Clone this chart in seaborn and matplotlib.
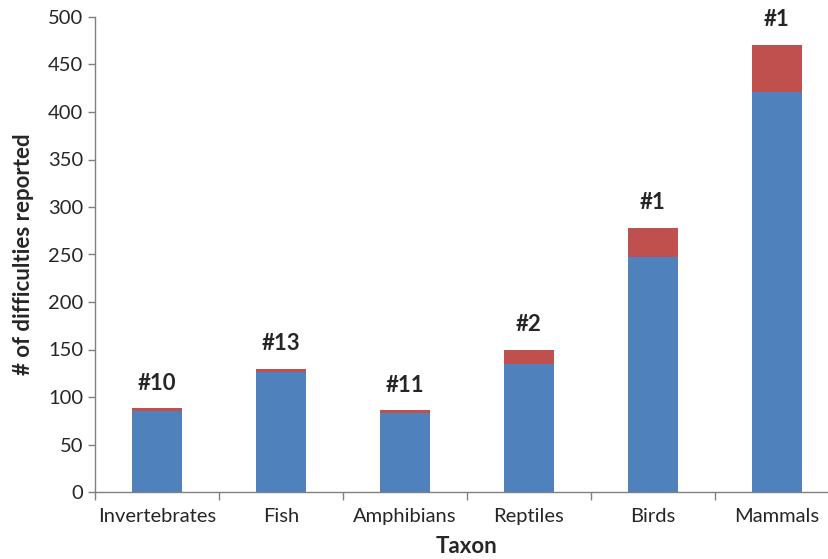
import seaborn as sns
import matplotlib.pyplot as plt
import pandas as pd
import numpy as np

taxa = ['Invertebrates', 'Fish', 'Amphibians', 'Reptiles', 'Birds', 'Mammals']
blue_vals = [85, 126, 83, 135, 247, 421]
red_vals = [3, 4, 3, 15, 31, 50]
ranks = ['#10', '#13', '#11', '#2', '#1', '#1']

df = pd.DataFrame({'taxon': taxa, 'base': blue_vals, 'extra': red_vals})
df['total'] = df['base'] + df['extra']

sns.set_style('white')
plt.rcParams['font.family'] = ['Lato', 'DejaVu Sans']

fig = plt.figure(figsize=(8.29, 5.59), dpi=100)
ax = fig.add_axes([95 / 829, 1 - 492 / 559, 744 / 829, (492 - 17) / 559])

sns.barplot(data=df, x='taxon', y='total', color='#C0504D', width=0.4,
            saturation=1, ax=ax, edgecolor='none')
sns.barplot(data=df, x='taxon', y='base', color='#4F81BD', width=0.4,
            saturation=1, ax=ax, edgecolor='none')

for i, (t, r) in enumerate(zip(df['total'], ranks)):
    ax.annotate(r, (i, t), xytext=(0, 18), textcoords='offset points',
                ha='center', va='center', fontsize=16, fontweight='bold')

ax.set_ylim(0, 500)
ax.set_xlim(-0.5, len(taxa) - 0.5)
ax.set_yticks(range(0, 501, 50))
ax.set_xlabel('Taxon', fontsize=16, fontweight='bold', labelpad=8)
ax.set_ylabel('# of difficulties reported', fontsize=16, fontweight='bold', labelpad=10)
ax.tick_params(axis='x', labelsize=14.5)
ax.tick_params(axis='y', labelsize=14.5)
ax.tick_params(axis='y', left=True, length=5, width=1, color='#808080', direction='out')
ax.tick_params(axis='x', bottom=False, pad=8)
ax.set_xticks(np.arange(-0.5, len(taxa), 1), minor=True)
ax.tick_params(axis='x', which='minor', bottom=True, length=6, width=1, color='#808080')

for s in ['top', 'right']:
    ax.spines[s].set_visible(False)
for s in ['left', 'bottom']:
    ax.spines[s].set_color('#808080')
    ax.spines[s].set_linewidth(1)

fig.savefig('out.png', dpi=100)
